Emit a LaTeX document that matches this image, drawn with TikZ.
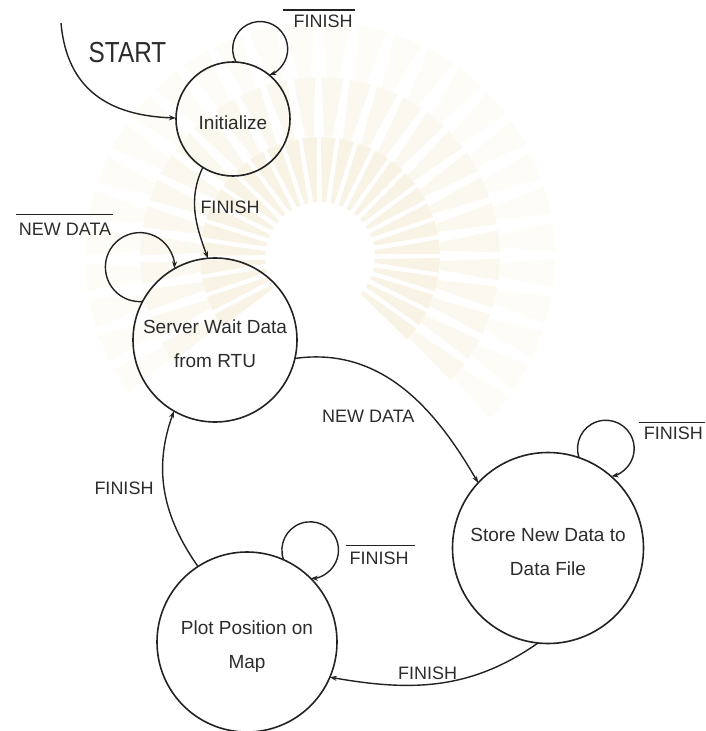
\documentclass[tikz,border=0pt]{standalone}
\usepackage{fontspec}
\setmainfont{Liberation Sans}
\newfontfamily\startfont[FakeStretch=0.84]{Liberation Sans}
\usetikzlibrary{arrows.meta}

\definecolor{linec}{HTML}{222222}
\definecolor{textc}{HTML}{2C2C2C}
\definecolor{raycol}{HTML}{F1E8CA}

% tall strut that pushes the state text slightly below the circle centre
\newcommand\lowerline{\rule{0pt}{22pt}}

\begin{document}
\begin{tikzpicture}[x=1pt,y=1pt,
  state/.style={circle, draw=linec, line width=1.6pt, inner sep=0pt, outer sep=0pt,
    text=textc, font=\fontsize{19}{34}\selectfont, align=center},
  cond/.style={inner sep=0pt, text=textc, font=\fontsize{18}{20}\selectfont},
  trans/.style={draw=linec, line width=1.4pt, -{Stealth[length=7pt,width=5pt]}},
  bar/.style={draw=linec, line width=1.3pt}]
\useasboundingbox (0,0) rectangle (705,-731);

% faint sunburst in the background, fading outwards
\coordinate (sun) at (320,-257);
\foreach \ri/\ro/\op in {55/120/0.5, 120/180/0.3, 180/235/0.15}
  \foreach \a in {-40,-31,...,220}
    \fill[raycol, fill opacity=\op, shift={(sun)}]
      (\a-2:\ri) -- (\a-3.5:\ro) -- (\a+3.5:\ro) -- (\a+2:\ri) -- cycle;

% states
\node[state, minimum size=114pt] (init)   at (233,-119) {\lowerline Initialize};
\node[state, minimum size=164pt] (server) at (215,-340) {\lowerline Server Wait Data\\from RTU};
\node[state, minimum size=191pt] (store)  at (548,-548) {\lowerline Store New Data to\\Data File};
\node[state, minimum size=180pt] (plot)   at (247,-642) {\lowerline Plot Position on\\Map};

% entry arrow
\coordinate (entry) at (61,-23);
\draw[trans] (entry) to[out=-85, in=178, looseness=1.15] (init.179);
\node[cond, font=\startfont\fontsize{29}{30}\selectfont] (startlbl) at (127.5,-53) {START};

% self loops
\draw[trans] (init.87.2)   arc[start angle=208.4, end angle=-70.6, radius=27.5];
\draw[trans] (server.152.6) arc[start angle=-85.5, end angle=-361.9, radius=34.5];
\draw[trans] (store.71.4)  arc[start angle=198.9, end angle=-78.5, radius=28.3];
\draw[trans] (plot.66.2)   arc[start angle=200, end angle=-88.8, radius=28.3];

% transitions between states
\draw[trans] (init.238)    to[out=245, in=110] (server.95);
\draw[trans] (server.-13.7) to[out=8, in=120] (store.137.9);
\draw[trans] (store.-96)   to[out=215, in=-10] (plot.-23.3);
\draw[trans] (plot.123)    to[out=125, in=250] (server.240);

% transition conditions
\node[cond] (c1) at (230,-207.5) {FINISH};
\node[cond] (c2) at (368.3,-416.7) {NEW DATA};
\node[cond] (c3) at (427.5,-673) {FINISH};
\node[cond] (c4) at (124,-488) {FINISH};

% negated conditions on the self loops
\node[cond] (n1) at (323,-21.7) {FINISH};
\draw[bar] ([shift={(-10pt,5pt)}]n1.north west) -- ([shift={(2pt,5pt)}]n1.north east);
\node[cond] (n2) at (65,-229) {NEW DATA};
\draw[bar] ([shift={(-3pt,8pt)}]n2.north west) -- ([shift={(2pt,8pt)}]n2.north east);
\node[cond] (n3) at (673.3,-433.3) {FINISH};
\draw[bar] ([shift={(-5pt,4pt)}]n3.north west) -- ([shift={(2pt,4pt)}]n3.north east);
\node[cond] (n4) at (379,-558.3) {FINISH};
\draw[bar] ([shift={(-3pt,6pt)}]n4.north west) -- ([shift={(6pt,6pt)}]n4.north east);
\end{tikzpicture}
\end{document}
